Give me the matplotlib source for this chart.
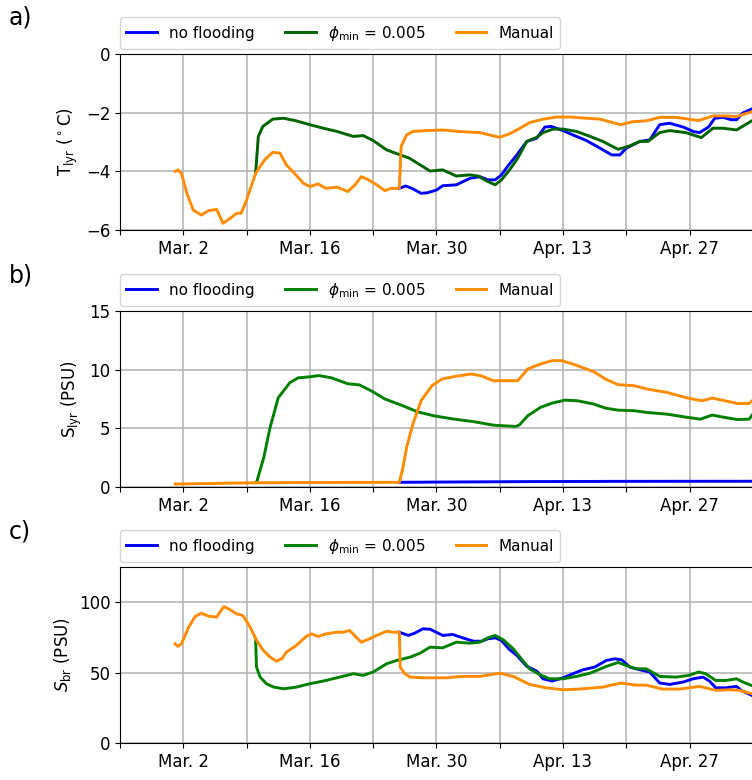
import numpy as np
import pandas as pd
import matplotlib
matplotlib.use("Agg")
import matplotlib.pyplot as plt
import matplotlib.dates as mdates
from matplotlib.ticker import FuncFormatter

# ---------------- data (day offsets since 2021-02-23) ----------------
base_date = "2021-02-23"

# Panel a: layer temperature (deg C)
T_shared_d = [6.1, 6.4, 6.8, 7.4, 8.1, 9.0, 9.8, 10.7, 11.4, 12.2, 12.9, 13.4, 14.0, 15.0,
              16.0, 16.9, 17.7, 18.4, 19.3, 20.3, 21.0, 21.9, 22.8, 24.0, 24.6, 25.2, 26.0,
              26.7, 27.5, 28.4, 29.3, 30.0, 30.9]
T_shared_v = [-4.0, -3.95, -4.07, -4.75, -5.32, -5.49, -5.34, -5.3, -5.77, -5.6, -5.43, -5.43,
              -4.98, -4.07, -3.61, -3.35, -3.38, -3.78, -4.07, -4.41, -4.52, -4.43, -4.58,
              -4.54, -4.61, -4.69, -4.46, -4.18, -4.29, -4.46, -4.66, -4.58, -4.58]
T_green_d = [15.3, 15.8, 16.9, 18.1, 19.5, 21.0, 22.5, 24.0, 25.8, 26.9, 28.0, 29.5, 31.0, 32.0,
             33.2, 34.3, 35.7, 37.2, 38.7, 39.6, 40.5, 41.5, 42.2, 43.1, 44.0, 45.0, 46.1, 46.8,
             47.9, 49.0, 50.5, 52.0, 53.4, 55.1, 56.4, 57.5, 58.4, 59.7, 60.8, 62.6, 64.3, 65.6,
             66.7, 68.2, 70.0]
T_green_v = [-2.81, -2.47, -2.22, -2.19, -2.28, -2.41, -2.53, -2.64, -2.81, -2.78, -2.95, -3.27,
             -3.44, -3.55, -3.78, -3.99, -3.95, -4.16, -4.12, -4.16, -4.32, -4.46, -4.29, -3.95,
             -3.55, -2.98, -2.84, -2.68, -2.56, -2.56, -2.64, -2.81, -2.98, -3.25, -3.13, -2.98,
             -2.98, -2.68, -2.61, -2.68, -2.85, -2.53, -2.53, -2.59, -2.26]
T_blue_d = [31.6, 32.3, 33.3, 34.0, 35.0, 35.7, 37.2, 38.7, 39.8, 40.7, 41.5, 42.2, 43.0, 43.9,
            45.0, 46.1, 47.0, 47.7, 49.0, 50.1, 51.6, 53.1, 54.4, 55.3, 56.0, 57.5, 58.6, 59.7,
            60.8, 62.3, 63.4, 64.1, 65.1, 65.8, 66.7, 67.6, 68.2, 68.9, 70.0]
T_blue_v = [-4.5, -4.58, -4.75, -4.73, -4.64, -4.49, -4.46, -4.24, -4.18, -4.29, -4.29, -4.12,
            -3.78, -3.44, -2.98, -2.87, -2.49, -2.47, -2.61, -2.76, -2.95, -3.21, -3.44, -3.44,
            -3.21, -2.98, -2.93, -2.41, -2.36, -2.49, -2.64, -2.68, -2.49, -2.19, -2.16, -2.24,
            -2.24, -2.01, -1.86]
T_orange_d = [31.1, 31.7, 32.4, 33.9, 35.7, 37.9, 39.8, 41.3, 42.0, 43.1, 44.2, 45.3, 46.8, 48.3,
              49.8, 51.6, 53.1, 54.5, 55.4, 56.7, 58.2, 59.7, 61.5, 62.9, 64.0, 65.6, 66.7, 68.2,
              70.0]
T_orange_v = [-3.15, -2.76, -2.64, -2.61, -2.59, -2.65, -2.68, -2.79, -2.84, -2.72, -2.54, -2.34,
              -2.22, -2.15, -2.15, -2.19, -2.22, -2.34, -2.41, -2.31, -2.28, -2.16, -2.16, -2.22,
              -2.27, -2.11, -2.11, -2.13, -1.96]

# Panel b: layer salinity (PSU)
S_shared_d = [6.1, 10.0, 15.0, 20.0, 25.0, 30.9]
S_shared_v = [0.25, 0.3, 0.36, 0.38, 0.39, 0.4]
S_green_d = [15.1, 15.9, 16.6, 17.5, 18.8, 19.7, 21.1, 22.0, 23.4, 25.2, 26.5, 27.9, 29.3, 31.1,
             32.9, 34.7, 37.0, 39.2, 41.3, 43.8, 44.2, 45.1, 46.5, 47.8, 49.2, 50.6, 52.4, 53.7,
             55.1, 56.9, 58.3, 60.5, 62.8, 64.2, 65.5, 66.9, 68.3, 69.6, 70.0]
S_green_v = [0.37, 2.5, 5.07, 7.6, 8.9, 9.3, 9.4, 9.5, 9.3, 8.8, 8.7, 8.15, 7.5, 6.98, 6.41,
             6.07, 5.78, 5.56, 5.27, 5.16, 5.3, 6.07, 6.78, 7.15, 7.4, 7.35, 7.07, 6.72, 6.55,
             6.5, 6.35, 6.21, 5.93, 5.78, 6.13, 5.93, 5.75, 5.78, 6.2]
S_blue_d = [35.0, 45.0, 55.0, 70.0]
S_blue_v = [0.42, 0.46, 0.48, 0.49]
S_orange_d = [31.3, 31.7, 32.4, 33.3, 34.5, 35.6, 36.9, 38.8, 39.9, 41.3, 42.6, 44.0, 45.1, 46.5,
              47.8, 48.8, 50.1, 52.4, 53.7, 55.1, 56.9, 58.3, 60.5, 62.8, 64.4, 65.5, 66.9, 68.3,
              69.6, 70.0]
S_orange_v = [1.65, 3.36, 5.36, 7.35, 8.63, 9.2, 9.4, 9.63, 9.49, 9.06, 9.06, 9.06, 10.06, 10.48,
              10.77, 10.77, 10.48, 9.83, 9.2, 8.72, 8.63, 8.35, 8.06, 7.58, 7.35, 7.58, 7.35,
              7.12, 7.12, 7.4]

# Panel c: brine salinity (PSU)
B_shared_d = [6.1, 6.4, 6.8, 7.6, 8.3, 9.0, 9.8, 10.7, 11.05, 11.5, 12.2, 12.9, 13.6, 14.4, 15.0,
              15.8, 16.6, 17.3, 17.9, 18.4, 19.5, 20.6, 21.2, 21.9, 22.8, 24.0, 24.7, 25.4, 26.2,
              26.7, 27.6, 28.4, 29.5, 30.2, 30.9]
B_shared_v = [70.4, 68.6, 70.4, 82.3, 89.8, 92.2, 90.1, 89.4, 92.9, 96.9, 94.6, 91.7, 90.5, 82.3,
              74.0, 66.2, 61.0, 58.2, 59.8, 64.5, 69.3, 75.7, 77.5, 75.7, 77.5, 78.7, 78.7, 79.9,
              74.7, 71.6, 74.0, 76.4, 79.4, 78.7, 78.7]
B_green_d = [15.1, 15.5, 16.2, 17.0, 18.1, 19.5, 21.0, 22.5, 24.3, 25.8, 26.9, 28.0, 29.5, 30.6,
             32.1, 33.2, 34.3, 35.7, 37.2, 38.7, 39.8, 40.7, 41.5, 42.4, 43.5, 44.4, 45.3, 46.4,
             47.5, 49.0, 50.5, 52.0, 53.8, 55.1, 56.0, 57.1, 58.2, 59.7, 61.5, 62.9, 64.0, 64.8,
             65.9, 67.0, 68.2, 68.9, 70.0]
B_green_v = [53.9, 46.8, 42.1, 39.7, 38.5, 39.7, 42.1, 44.0, 46.8, 49.2, 48.0, 50.4, 56.3, 58.6,
             61.0, 63.8, 68.1, 67.6, 71.6, 70.9, 71.6, 74.7, 76.4, 73.3, 66.9, 59.8, 52.7, 48.7,
             45.6, 45.6, 47.3, 49.6, 54.4, 57.2, 55.1, 52.7, 52.7, 47.3, 46.8, 48.0, 50.4, 49.2,
             44.4, 44.4, 45.6, 43.3, 40.5]
B_blue_d = [31.9, 32.6, 33.5, 34.3, 35.7, 36.8, 37.9, 39.1, 40.0, 40.7, 41.5, 42.2, 43.0, 43.9,
            45.0, 46.1, 46.8, 47.8, 49.0, 50.1, 51.2, 52.5, 53.8, 54.7, 55.5, 56.4, 57.5, 58.6,
            59.7, 60.8, 62.3, 63.4, 64.5, 65.2, 65.9, 67.0, 68.2, 68.7, 70.0]
B_blue_v = [76.4, 78.0, 81.1, 80.8, 76.4, 77.1, 74.7, 72.3, 72.3, 74.0, 74.7, 72.8, 66.9, 62.2,
            54.4, 51.1, 45.6, 44.0, 46.3, 49.2, 52.0, 53.9, 58.6, 59.8, 59.1, 53.9, 52.0, 50.4,
            42.6, 41.6, 43.3, 45.6, 46.8, 44.0, 39.2, 39.2, 40.2, 37.4, 33.5]
B_orange_d = [31.0, 31.5, 32.1, 33.5, 36.1, 37.9, 39.8, 42.0, 43.5, 45.3, 47.1, 49.0, 50.8, 53.4,
              55.4, 57.1, 58.2, 60.0, 61.9, 64.1, 65.9, 67.4, 68.5, 70.0]
B_orange_v = [53.9, 49.2, 46.8, 46.3, 46.3, 47.3, 47.3, 49.6, 47.3, 41.6, 39.2, 37.8, 38.3, 39.7,
              42.6, 41.1, 41.1, 38.3, 38.3, 40.2, 37.4, 37.8, 37.4, 34.8]

green_branch_day = 15.0   # flooding with phi_min starts
manual_branch_day = 30.9  # manual flooding starts

labels = ["no flooding", r"$\phi_{\rm min}$ = 0.005", "Manual"]
panel_letters = ["a)", "b)", "c)"]
ylabels = [r"T$_{\rm lyr}$ ($^\circ$C)", r"S$_{\rm lyr}$ (PSU)", r"$S_{\rm br}$ (PSU)"]
yticks = [[-6, -4, -2, 0], [0, 5, 10, 15], [0, 50, 100]]
ylims = [(-6, 0), (0, 15), (0, 125)]
greens = ["darkgreen", "green", "green"]

# ---------------- helpers ----------------
t0 = pd.Timestamp(base_date)


def to_dates(days):
    return t0 + pd.to_timedelta(np.asarray(days, dtype=float), unit="D")


def build(shared_d, shared_v, own_d, own_v, branch, full=False):
    """Series = shared history up to the branch day + its own values.
    If full is False only the branch point of the shared part is kept
    (the shared part is drawn by the line on top)."""
    sd = np.asarray(shared_d)
    sv = np.asarray(shared_v)
    m = sd <= branch + 1e-9
    if not full:
        idx = np.where(m)[0][-1]
        m = np.zeros_like(m)
        m[idx] = True
    return to_dates(np.concatenate([sd[m], own_d])), np.concatenate([sv[m], own_v])


panels = [
    (T_shared_d, T_shared_v, T_blue_d, T_blue_v, T_green_d, T_green_v, T_orange_d, T_orange_v),
    (S_shared_d, S_shared_v, S_blue_d, S_blue_v, S_green_d, S_green_v, S_orange_d, S_orange_v),
    (B_shared_d, B_shared_v, B_blue_d, B_blue_v, B_green_d, B_green_v, B_orange_d, B_orange_v),
]

fig = plt.figure(figsize=(7.52, 7.80), dpi=100)

left_px, px_per_day = 120, 9.04
xmin_day, xmax_day = 0, 72
ax_w = (xmax_day - xmin_day) * px_per_day / 752
ax_l = left_px / 752
tops = [54, 311, 567]
h_px = 176

week_ticks = to_dates(np.arange(0, 71, 7))
label_days = {7, 21, 35, 49, 63}


def fmt(x, pos):
    dt = mdates.num2date(x)
    day = (pd.Timestamp(dt.replace(tzinfo=None)) - t0).days
    if day in label_days:
        return dt.strftime("%b.") + " " + str(dt.day)
    return ""


for i, p in enumerate(panels):
    sd, sv, bd, bv, gd, gv, od, ov = p
    bottom = 1 - (tops[i] + h_px) / 780
    ax = fig.add_axes([ax_l, bottom, ax_w, h_px / 780])
    xb, yb = build(sd, sv, bd, bv, manual_branch_day)
    xg, yg = build(sd, sv, gd, gv, green_branch_day)
    xo, yo = build(sd, sv, od, ov, manual_branch_day, full=True)
    ax.plot(xb, yb, color="blue", lw=2.1, label=labels[0])
    ax.plot(xg, yg, color=greens[i], lw=2.1, label=labels[1])
    ax.plot(xo, yo, color="darkorange", lw=2.1, label=labels[2])
    ax.set_xlim(to_dates([xmin_day, xmax_day]))
    ax.set_ylim(*ylims[i])
    ax.set_yticks(yticks[i])
    ax.set_xticks(week_ticks)
    ax.xaxis.set_major_formatter(FuncFormatter(fmt))
    ax.tick_params(labelsize=12)
    ax.grid(True, color="#b0b0b0", lw=1.1)
    ax.set_ylabel(ylabels[i], fontsize=12)
    ax.legend(loc="lower left", bbox_to_anchor=(0, 1.03), borderaxespad=0, ncol=3,
              fontsize=11)
    fig.text(0.012, 1 - (tops[i] - 36) / 780, panel_letters[i], fontsize=17,
             ha="left", va="center")

fig.savefig("out.png", dpi=100)
